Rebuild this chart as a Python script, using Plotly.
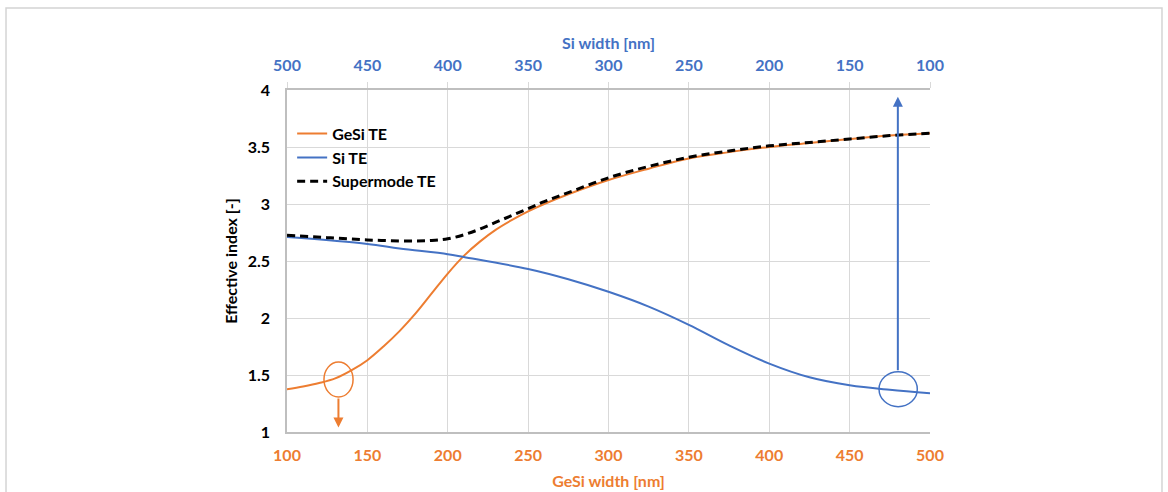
import plotly.graph_objects as go

# ---- data ----
gesi_x = [100, 110, 120, 130, 140, 150, 160, 170, 180, 190, 200, 210, 220, 230, 240, 250,
          260, 275, 300, 325, 350, 375, 400, 425, 450, 475, 500]
gesi_te = [1.375, 1.40, 1.43, 1.47, 1.54, 1.63, 1.75, 1.885, 2.04, 2.215, 2.39, 2.545,
           2.67, 2.775, 2.86, 2.935, 3.0, 3.085, 3.21, 3.31, 3.40, 3.455, 3.50, 3.535,
           3.57, 3.60, 3.62]

si_x = [100, 150, 170, 200, 210, 250, 275, 300, 325, 350, 375, 400, 425, 450, 475, 500]
si_te = [2.71, 2.65, 2.61, 2.56, 2.535, 2.43, 2.34, 2.23, 2.10, 1.94, 1.76, 1.60, 1.48,
         1.41, 1.37, 1.34]

sm_x = [100, 125, 150, 175, 190, 200, 210, 220, 230, 240, 250, 260, 275, 300, 325, 350,
        375, 400, 425, 450, 475, 500]
sm_te = [2.725, 2.705, 2.685, 2.675, 2.68, 2.695, 2.73, 2.78, 2.84, 2.90, 2.96, 3.02,
         3.10, 3.23, 3.33, 3.41, 3.465, 3.51, 3.54, 3.57, 3.60, 3.62]

gesi_ticks = [100, 150, 200, 250, 300, 350, 400, 450, 500]
si_ticks = [500, 450, 400, 350, 300, 250, 200, 150, 100]
y_ticks = [1, 1.5, 2, 2.5, 3, 3.5, 4]

ORANGE = "#ED7D31"
BLUE = "#4472C4"
FONT = "Lato"

# annotation markers (data coords)
orange_ellipse = dict(x0=123.0, x1=141.1, y0=1.307, y1=1.614)
orange_arrow = dict(x=132, y=1.04, ax=132, ay=1.307)
blue_ellipse = dict(x0=468.3, x1=492.1, y0=1.222, y1=1.529)
blue_arrow = dict(x=480, y=3.94, ax=480, ay=1.529)

fig = go.Figure()
fig.add_trace(go.Scatter(x=gesi_x, y=gesi_te, mode="lines", name="GeSi TE",
                         line=dict(color=ORANGE, width=2, shape="spline")))
fig.add_trace(go.Scatter(x=si_x, y=si_te, mode="lines", name="Si TE",
                         line=dict(color=BLUE, width=2, shape="spline")))
fig.add_trace(go.Scatter(x=sm_x, y=sm_te, mode="lines", name="Supermode TE",
                         line=dict(color="black", width=3, dash="8px,5px", shape="spline")))
# invisible trace to carry the top axis
fig.add_trace(go.Scatter(x=si_ticks, y=[None] * len(si_ticks), xaxis="x2", mode="lines",
                         showlegend=False, hoverinfo="skip"))

fig.add_shape(type="circle", xref="x", yref="y", line=dict(color=ORANGE, width=1.5),
              **orange_ellipse)
fig.add_shape(type="circle", xref="x", yref="y", line=dict(color=BLUE, width=1.5),
              **blue_ellipse)
fig.add_annotation(text="", xref="x", yref="y", axref="x", ayref="y", showarrow=True,
                   arrowhead=2, arrowsize=1, arrowwidth=2, arrowcolor=ORANGE, **orange_arrow)
fig.add_annotation(text="", xref="x", yref="y", axref="x", ayref="y", showarrow=True,
                   arrowhead=2, arrowsize=1, arrowwidth=2, arrowcolor=BLUE, **blue_arrow)

# outer frame
fig.add_shape(type="rect", xref="paper", yref="paper", x0=-0.437, x1=1.3608,
              y0=-0.4, y1=1.2398, line=dict(color="#D4D4D4", width=1.5), layer="below")

fig.update_layout(
    width=1168, height=492,
    margin=dict(l=287, r=238, t=90, b=60, autoexpand=False),
    paper_bgcolor="white", plot_bgcolor="white",
    font=dict(family=FONT, color="black"),
    showlegend=True,
    legend=dict(x=0.008, y=0.922, xanchor="left", yanchor="top",
                bgcolor="rgba(0,0,0,0)", font=dict(family=FONT, size=16, color="black", weight=700),
                tracegroupgap=0, itemwidth=30),
    xaxis=dict(range=[100, 500], tickvals=gesi_ticks, showgrid=True, gridcolor="#D9D9D9",
               gridwidth=1, showline=True, linecolor="#BFBFBF", linewidth=1.5, ticks="",
               zeroline=False, ticklabelstandoff=8, automargin=False,
               tickfont=dict(family=FONT, size=16, color=ORANGE, weight=700),
               title=dict(text="GeSi width [nm]", standoff=13,
                          font=dict(family=FONT, size=16, color=ORANGE, weight=700))),
    xaxis2=dict(range=[500, 100], overlaying="x", side="top", tickvals=si_ticks,
                showgrid=False, showline=True, linecolor="#BFBFBF", linewidth=1.5,
                ticks="outside", ticklen=6, tickcolor="#D9D9D9", zeroline=False,
                ticklabelstandoff=5, automargin=False,
                tickfont=dict(family=FONT, size=16, color=BLUE, weight=700),
                title=dict(text="Si width [nm]", standoff=1,
                           font=dict(family=FONT, size=16, color=BLUE, weight=700))),
    yaxis=dict(range=[1, 4], tickvals=y_ticks, showgrid=True, gridcolor="#D9D9D9",
               gridwidth=1, showline=True, linecolor="#BFBFBF", linewidth=1.5, ticks="",
               ticklabelstandoff=12, zeroline=False, automargin=False,
               tickfont=dict(family=FONT, size=16, color="black", weight=700),
               title=dict(text="Effective index [-]", standoff=6,
                          font=dict(family=FONT, size=16, color="black", weight=700))),
)

fig.write_html("out.html")
